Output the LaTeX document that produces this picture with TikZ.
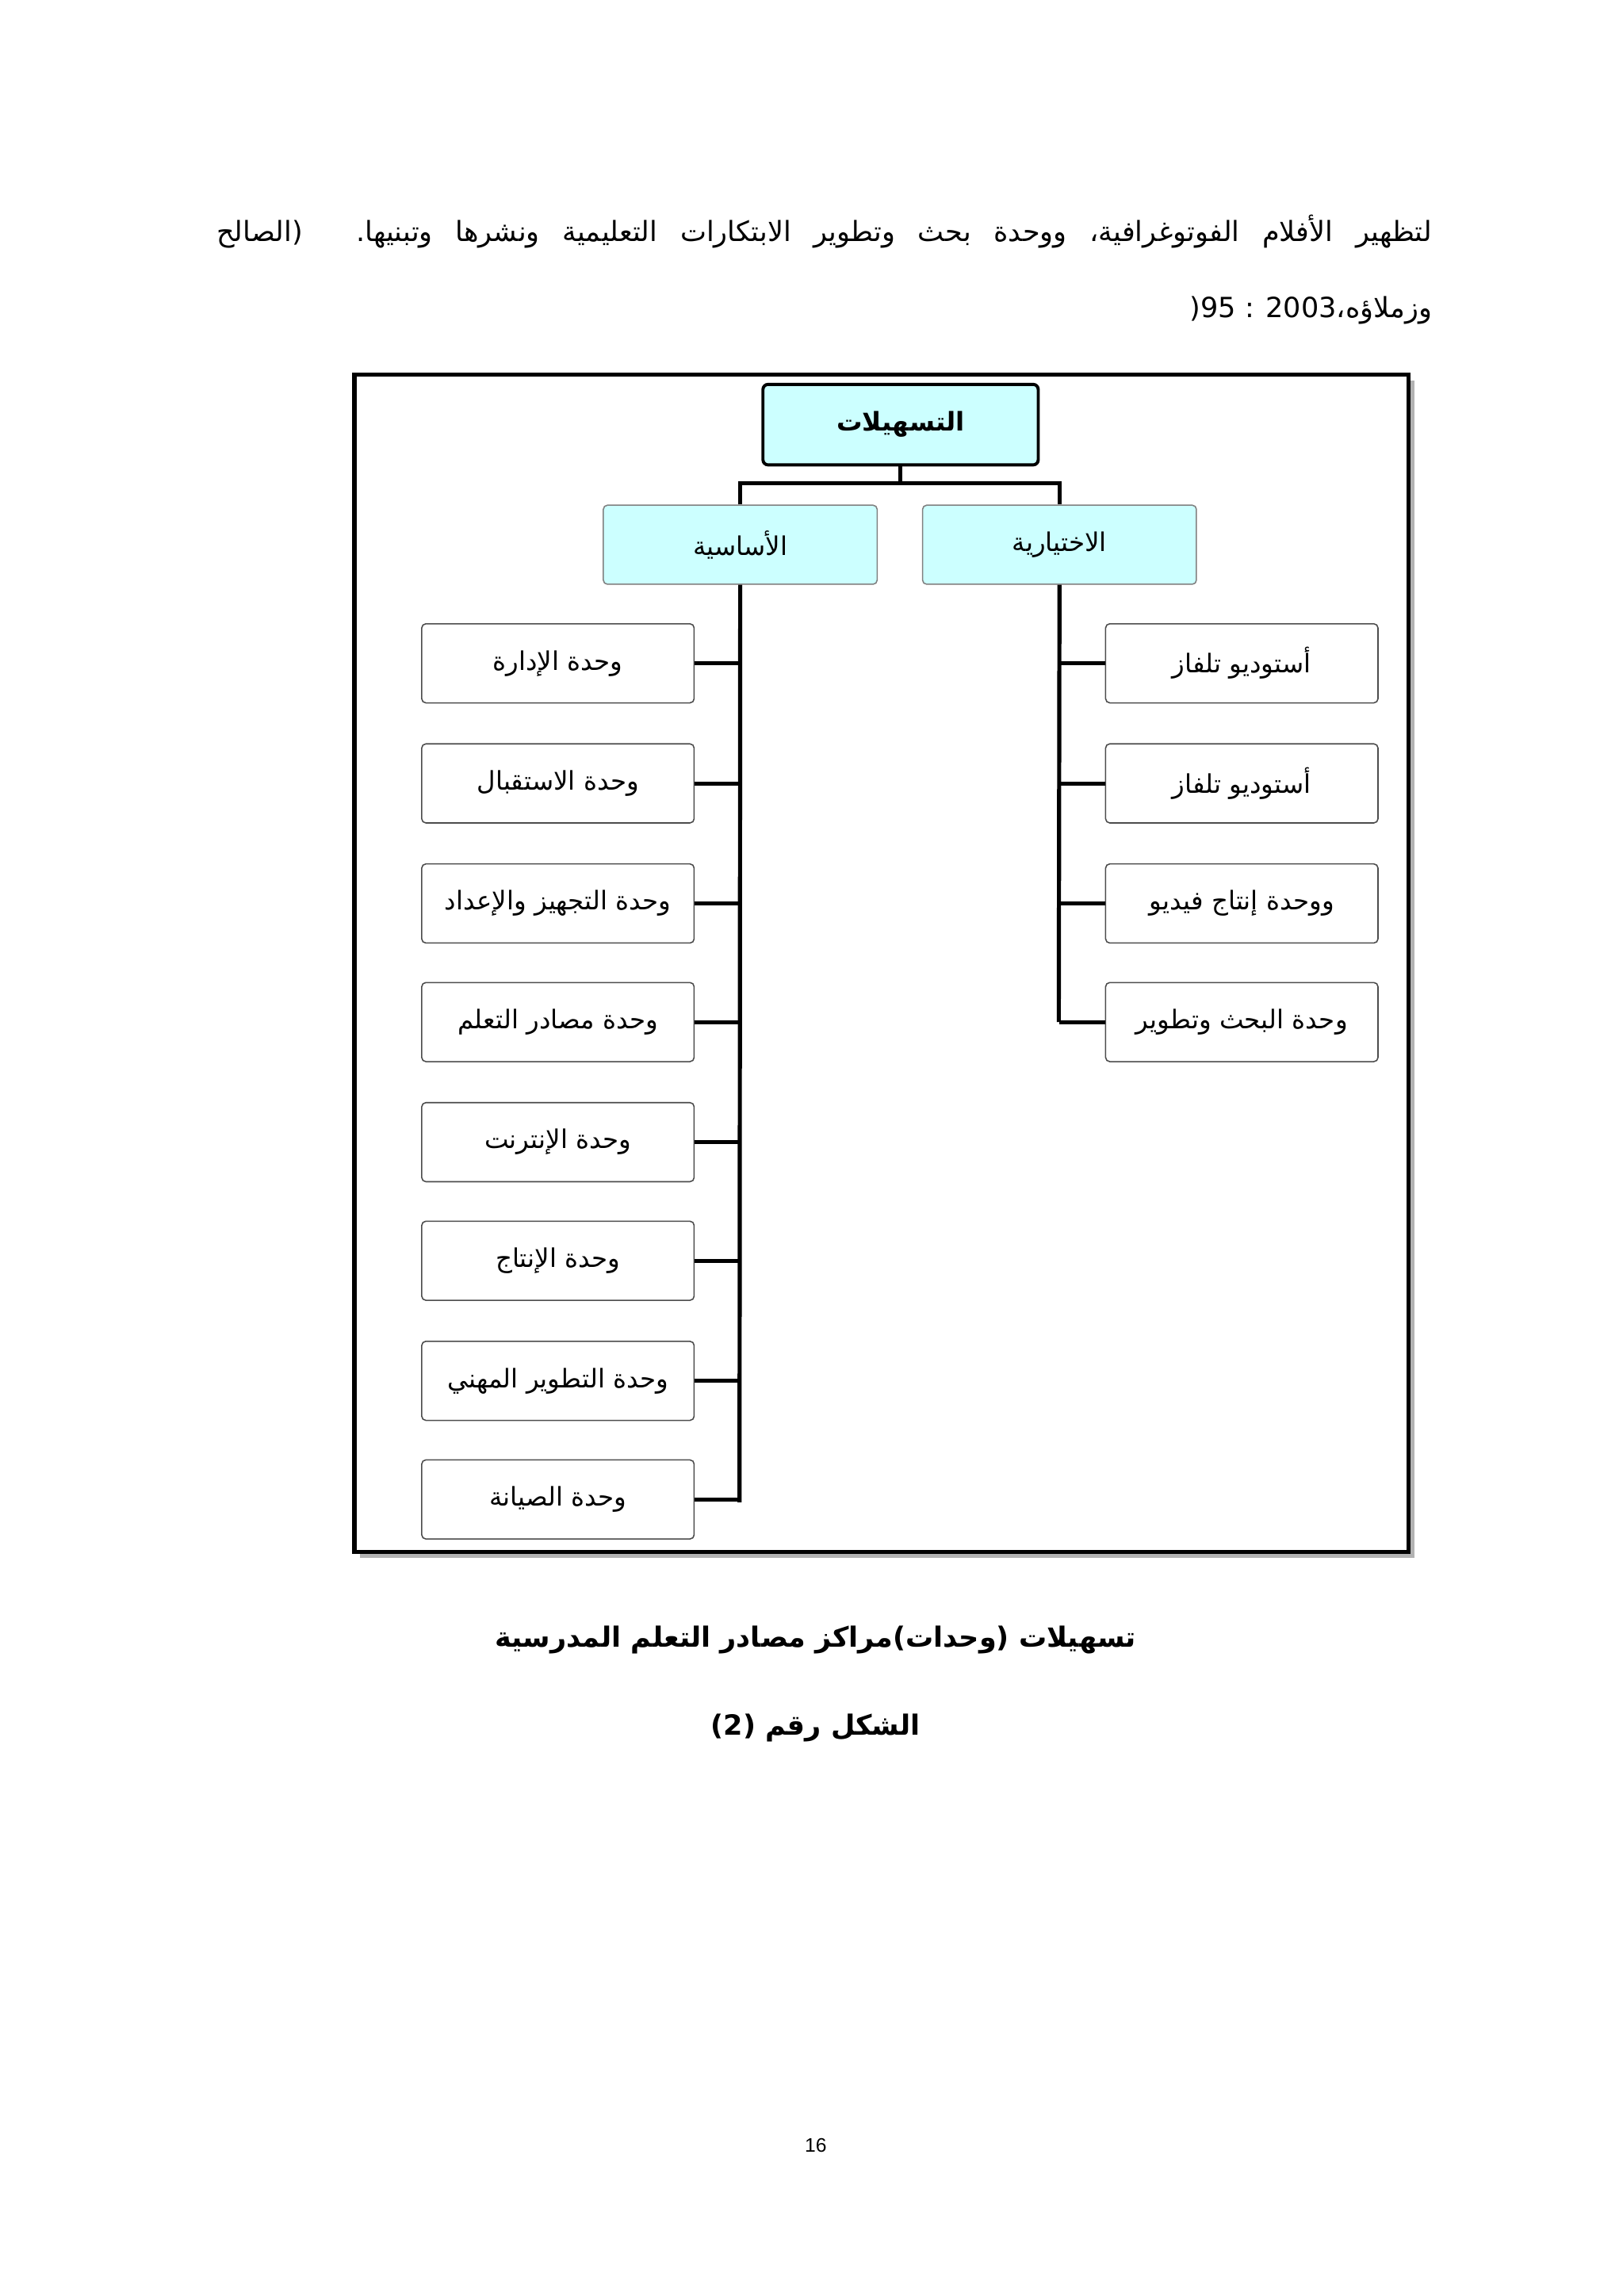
\documentclass[tikz,border=0pt]{standalone}
\usepackage{fontspec}
\TeXXeTstate=1
\newfontfamily\arabicfont[Script=Arabic]{DejaVu Sans}
\newfontfamily\pgfont{Liberation Sans}
\setmainfont{Liberation Serif}
\definecolor{boxcyan}{RGB}{204,255,255}
\begin{document}
\begin{tikzpicture}[x=0.05cm,y=-0.05cm,
  unitbox/.style={draw=black!70,line width=1.2pt,rounded corners=4pt,minimum width=186*0.05cm,minimum height=54*0.05cm,font=\arabicfont\fontsize{25}{29}\selectfont,fill=white},
  catbox/.style={draw=black!50,line width=1.2pt,rounded corners=4pt,fill=boxcyan,minimum width=187*0.05cm,minimum height=54*0.05cm,font=\arabicfont\fontsize{25}{29}\selectfont},
  link/.style={line width=4pt,black}]
\useasboundingbox (0,0) rectangle (1108,1568);
\fill[white] (0,0) rectangle (1108,1568);
% body text
\node[anchor=east,inner sep=0pt,font=\arabicfont\fontsize{27}{32}\selectfont] (t1) at (978,158) {\hbox to 41.5cm{\beginR لتظهير الأفلام الفوتوغرافية، ووحدة بحث وتطوير الابتكارات التعليمية ونشرها وتبنيها. (الصالح\endR}};
\node[anchor=east,inner sep=0pt,font=\arabicfont\fontsize{27}{32}\selectfont] (t2) at (978,212) {\beginR وزملاؤه،\beginL 95 : 2003\endL{}(\endR};
% frame
\fill[black!30] (246,260) rectangle (966,1064);
\draw[line width=4pt,fill=white] (242,256) rectangle (962,1060);
% top node
\node[draw=black,line width=3pt,rounded corners=5pt,fill=boxcyan,minimum width=188*0.05cm,minimum height=55*0.05cm,font=\arabicfont\bfseries\fontsize{25}{29}\selectfont] (top) at (615,290) {\beginR التسهيلات\endR};
\node[catbox] (basic) at (505.5,372) {\beginR الأساسية\endR};
\node[catbox] (opt) at (723.5,372) {\beginR الاختيارية\endR};
\coordinate (j) at (615,330);
\draw[link] (top.south) -- (j);
\draw[link] (basic.north) |- (j) -| (opt.north);
% left units
\foreach \n/\yy/\t in {l1/453/وحدة الإدارة, l2/535/وحدة الاستقبال, l3/617/وحدة التجهيز والإعداد, l4/698/وحدة مصادر التعلم, l5/780/وحدة الإنترنت, l6/861/وحدة الإنتاج, l7/943/وحدة التطوير المهني, l8/1024/وحدة الصيانة}{
  \node[unitbox] (\n) at (381,\yy) {\beginR\t\endR};
}
\foreach \n/\yy/\t in {r1/453/أستوديو تلفاز, r2/535/أستوديو تلفاز, r3/617/ووحدة إنتاج فيديو, r4/698/وحدة البحث وتطوير}{
  \node[unitbox] (\n) at (848,\yy) {\beginR\t\endR};
}
\coordinate (lb) at (505,1026);
\coordinate (rb) at (723,698);
\draw[link] (basic.south) -- (lb);
\draw[link] (opt.south) -- (rb);
\foreach \n in {l1,l2,l3,l4,l5,l6,l7,l8}{\draw[link] (\n.east) -- (\n.east -| basic.south);}
\foreach \n in {r1,r2,r3,r4}{\draw[link] (\n.west) -- (\n.west -| opt.south);}
% caption
\node[font=\arabicfont\bfseries\fontsize{27}{32}\selectfont] (c1) at (557,1120) {\beginR تسهيلات (وحدات)مراكز مصادر التعلم المدرسية\endR};
\node[font=\arabicfont\bfseries\fontsize{27}{32}\selectfont] (c2) at (557,1180) {\beginR الشكل رقم (\beginL 2\endL{})\endR};
\node[font=\pgfont\fontsize{19}{22}\selectfont] (pg) at (557,1465) {16};
\end{tikzpicture}
\end{document}
